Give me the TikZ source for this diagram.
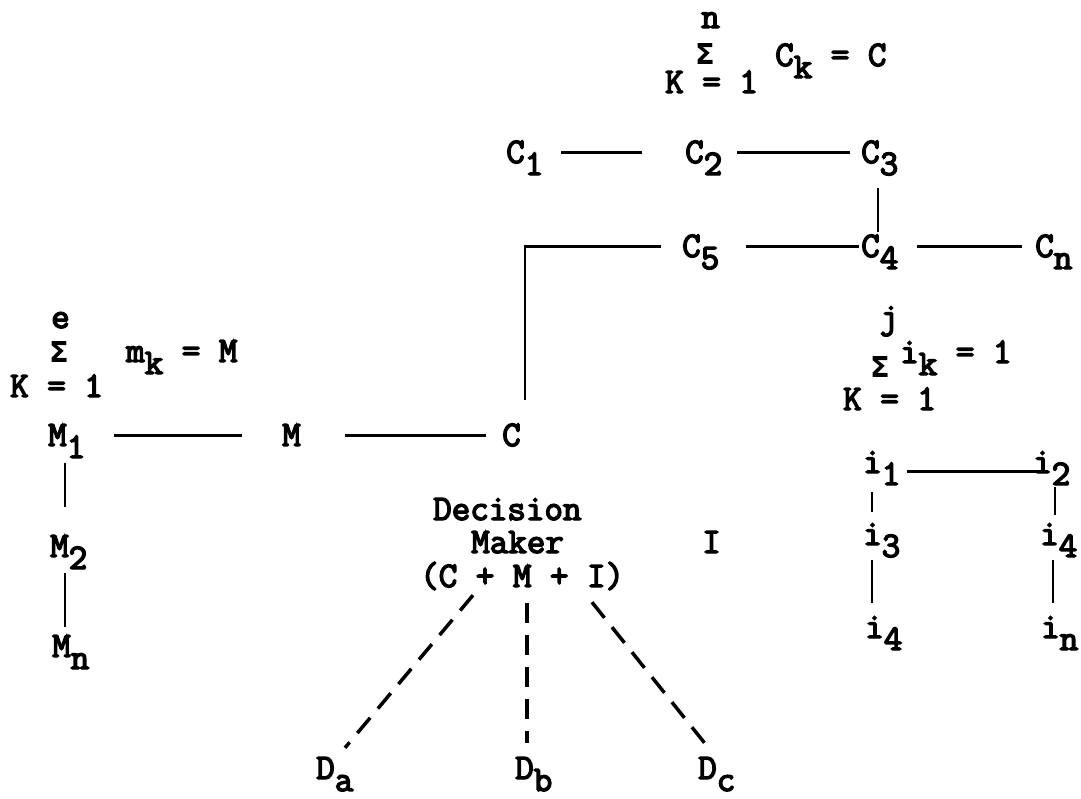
\documentclass[tikz,border=0pt]{standalone}
\usepackage[no-math]{fontspec}
\newfontfamily\twfont{Latin Modern Mono}[BoldFont={Latin Modern Mono},BoldFeatures={FakeBold=4}]
\newfontfamily\sigfont{DejaVu Sans}[Scale=1.6]
\newcommand\sbs[1]{\raisebox{-12pt}{#1}}
\newcommand\bigsig{{\sigfont\bfseries Σ}}
\begin{document}
\begin{tikzpicture}[x=1pt,y=-1pt,
  lab/.style={inner sep=0pt,text height=21pt,text depth=0pt,anchor=base west,font=\fontsize{36}{40}\selectfont\twfont\bfseries},
  sig/.style={inner sep=0pt,text height=12pt,text depth=0pt,font=\fontsize{18}{20}\selectfont},
  link/.style={line width=2.8pt},
  dlink/.style={line width=3.5pt,dash pattern=on 20pt off 12pt}]
\useasboundingbox[fill=white] (0,0) rectangle (1081,798);
% top formula
\node[lab] (tn) at (701,28) {n};
\node[sig] (tsig) at (705,58) {\bigsig};
\node[lab] (tk) at (665,93) {K = 1};
\node[lab] (tck) at (775,66) {C\sbs{k} = C};
% C chain
\node[lab] (c1) at (506,163) {C\sbs{1}};
\node[lab] (c2) at (685,163) {C\sbs{2}};
\node[lab] (c3) at (861,163) {C\sbs{3}};
\node[lab] (c5) at (682,257) {C\sbs{5}};
\node[lab] (c4) at (861,257) {C\sbs{4}};
\node[lab] (cn) at (1035,257) {C\sbs{n}};
\draw[link,shorten <=18pt,shorten >=43pt] (c1.east) -- (c2.west);
\draw[link,shorten <=15pt,shorten >=11pt] (c2.east) -- (c3.west);
\coordinate (v1) at ([xshift=17pt]c3.south west);
\draw[link,shorten <=25pt,shorten >=4pt] (v1) -- (v1 |- c4.north);
\draw[link,shorten <=27pt,shorten >=2pt] (c5.east) -- (c4.west);
\draw[link,shorten <=19pt,shorten >=13pt] (c4.east) -- (cn.west);
% left formula
\node[lab] (le) at (51,328) {e};
\node[sig] (lsig) at (59,356) {\bigsig};
\node[lab] (lm) at (126,362) {m\sbs{k} = M};
\node[lab] (lk) at (10,397) {K = 1};
% right formula
\node[lab,anchor=base] (rj) at (889,328) {j};
\node[sig] (rsig) at (880,371) {\bigsig};
\node[lab] (ri) at (900,363) {i\sbs{k} = 1};
\node[lab] (rk) at (843,410) {K = 1};
% M row
\node[lab] (m1) at (48,446) {M\sbs{1}};
\node[lab] (mm) at (282,446) {M};
\node[lab] (cc) at (502,446) {C};
\node[lab] (m2) at (50,557) {M\sbs{2}};
\node[lab] (mn) at (52,657) {M\sbs{n}};
\draw[link,shorten <=29pt,shorten >=40pt] (m1.east) -- (mm.west);
\draw[link,shorten <=44pt,shorten >=16pt] (mm.east) -- (cc.west);
\coordinate (lc) at ([xshift=23pt]cc.north west);
\draw[link,shorten <=25pt,shorten >=21pt] (lc) |- (c5.west);
\coordinate (mv) at ([xshift=17pt]m1.south west);
\draw[link,shorten <=17pt,shorten >=29pt] (mv) -- (mv |- m2.north);
\coordinate (mv2) at (mv |- m2.south);
\draw[link,shorten <=16pt,shorten >=9pt] (mv2) -- (mv2 |- mn.north);
% decision maker
\node[lab] (dec) at (433,520) {Decision};
\node[lab] (mak) at (471,553) {Maker};
\node[lab] (cmi) at (420,587) {(C + M + I)};
\node[lab] (ii) at (702,553) {I};
\node[lab] (da) at (316,779) {D\sbs{a}};
\node[lab] (db) at (515,779) {D\sbs{b}};
\node[lab] (dc) at (698,779) {D\sbs{c}};
\draw[dlink] ([xshift=53pt,yshift=-8pt]cmi.south west) -- ([xshift=29pt,yshift=10pt]da.north west);
\draw[dlink] ([xshift=107pt,yshift=-16pt]cmi.south west) -- ([xshift=12pt,yshift=15pt]db.north west);
\draw[dlink] ([xshift=172pt,yshift=-15pt]cmi.south west) -- ([xshift=12pt,yshift=8pt]dc.north west);
% i block
\node[lab] (i1) at (863,473) {i\sbs{1}};
\node[lab] (i2) at (1033,473) {i\sbs{2}};
\node[lab] (i3) at (863,545) {i\sbs{3}};
\node[lab] (i4) at (1040,545) {i\sbs{4}};
\node[lab] (i5) at (865,638) {i\sbs{4}};
\node[lab] (i6) at (1041,638) {i\sbs{n}};
\draw[link,shorten <=7pt,shorten >=-4pt] ([yshift=-9pt]i1.east) -- ([yshift=-9pt]i2.west);
\coordinate (iv1) at ([xshift=9pt]i1.south west);
\draw[link,shorten <=19pt,shorten >=12pt] (iv1) -- (iv1 |- i3.north);
\coordinate (iv2) at ([xshift=22pt]i2.south west);
\draw[link,shorten <=14pt,shorten >=9pt] (iv2) -- (iv2 |- i4.north);
\coordinate (iv3) at (iv1 |- i3.south);
\draw[link,shorten <=15pt,shorten >=14pt] (iv3) -- (iv3 |- i5.north);
\coordinate (iv4) at ([xshift=13pt]i4.south west);
\draw[link,shorten <=15pt,shorten >=14pt] (iv4) -- (iv4 |- i6.north);
\end{tikzpicture}
\end{document}
